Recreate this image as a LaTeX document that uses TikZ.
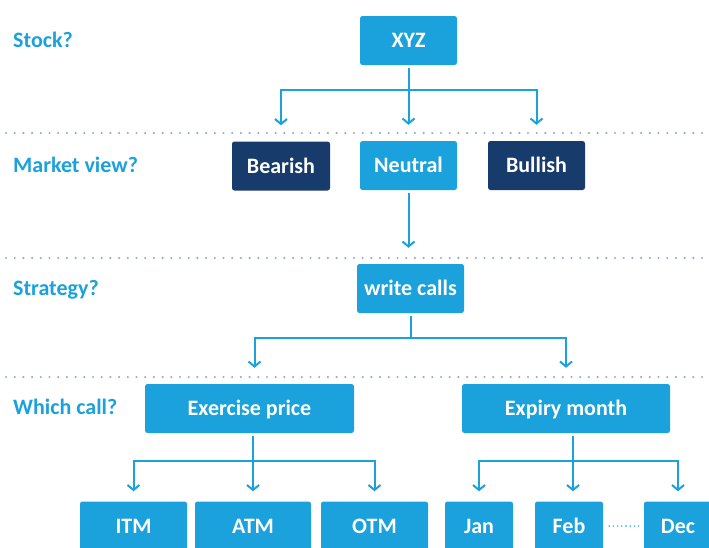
\documentclass[tikz,border=0pt]{standalone}
\usepackage{fontspec}
\setmainfont{Carlito}
\usetikzlibrary{arrows.meta}
\definecolor{boxblue}{HTML}{1BA1DB}
\definecolor{boxnavy}{HTML}{173B6B}
\definecolor{dotgrey}{HTML}{9AAEBF}
\tikzset{
  box/.style={fill=boxblue, rounded corners=2.5pt, inner sep=0pt,
    minimum height=49pt, text=white,
    font=\bfseries\fontsize{22}{24}\selectfont,
    text height=14pt, text depth=0pt},
  darkbox/.style={box, fill=boxnavy},
  question/.style={anchor=base west, inner sep=0pt, text=boxblue,
    font=\bfseries\fontsize{22}{24}\selectfont},
  conn/.style={draw=boxblue, line width=2pt, line join=miter,
    -{Straight Barb[length=5pt,width=12pt]}, shorten <=3pt},
  separator/.style={draw=dotgrey, line width=2.4pt, line cap=round,
    dash pattern=on 0pt off 8.7pt},
  gapdots/.style={draw=boxblue, line width=1.6pt, line cap=round,
    dash pattern=on 0pt off 4.2pt},
}
\begin{document}
\begin{tikzpicture}[x=1pt,y=-1pt]
\useasboundingbox (0,0) rectangle (709,547);
\clip (0,0) rectangle (709,547);

% level separators
\draw[separator] (6,133) -- (712,133);
\draw[separator] (6,258) -- (712,258);
\draw[separator] (6,377) -- (712,377);

% question labels
\node[question] (q1) at (13,47.5) {Stock?};
\node[question] (q2) at (13,172.5) {Market view?};
\node[question] (q3) at (13,295.5) {Strategy?};
\node[question] (q4) at (13,414.5) {Which call?};

% decision boxes
\node[box, minimum width=97pt] (xyz) at (408.5,40.5) {XYZ};
\node[darkbox, minimum width=98pt] (bearish) at (281,166) {Bearish};
\node[box, minimum width=97pt] (neutral) at (408.5,165.5) {Neutral};
\node[darkbox, minimum width=97pt] (bullish) at (536.5,165.5) {Bullish};
\node[box, minimum width=107pt] (write) at (410.5,288.5) {write calls};
\node[box, minimum width=209pt] (exercise) at (249.5,408.5) {Exercise price};
\node[box, minimum width=208pt] (expiry) at (566,408.5) {Expiry month};
\node[box, minimum width=107pt] (itm) at (133.5,526) {ITM};
\node[box, minimum width=116pt] (atm) at (253,526) {ATM};
\node[box, minimum width=107pt] (otm) at (374.5,526) {OTM};
\node[box, minimum width=68pt] (jan) at (479,526) {Jan};
\node[box, minimum width=68pt] (feb) at (569,526) {Feb};
\node[box, minimum width=68pt] (dec) at (678,526) {Dec};

% bus lines
\coordinate (bus1) at (0,90);
\coordinate (bus3) at (0,338);
\coordinate (bus4) at (0,461);

% stock -> market view
\draw[conn, shorten >=16pt] (xyz.south) |- (bus1 -| bearish.north) -- (bearish.north);
\draw[conn, shorten >=16pt] (xyz.south) -- (neutral.north);
\draw[conn, shorten >=16pt] (xyz.south) |- (bus1 -| bullish.north) -- (bullish.north);

% market view -> strategy
\draw[conn, shorten >=16pt] (neutral.south) -- (neutral.south |- write.north);

% strategy -> which call
\coordinate (exn) at ([xshift=5pt]exercise.north);
\draw[conn, shorten >=16pt] (write.south) |- (bus3 -| exn) -- (exn);
\draw[conn, shorten >=16pt] (write.south) |- (bus3 -| expiry.north) -- (expiry.north);

% exercise price -> moneyness
\coordinate (exs) at (atm.north |- exercise.south);
\draw[conn, shorten >=10pt] (exs) |- (bus4 -| itm.north) -- (itm.north);
\draw[conn, shorten >=10pt] (exs) -- (atm.north);
\draw[conn, shorten >=10pt] (exs) |- (bus4 -| otm.north) -- (otm.north);

% expiry month -> months
\coordinate (exps) at ([xshift=7pt]expiry.south);
\draw[conn, shorten >=10pt] (exps) |- (bus4 -| jan.north) -- (jan.north);
\draw[conn, shorten >=10pt] (exps) -- (exps |- feb.north);
\draw[conn, shorten >=10pt] (exps) |- (bus4 -| dec.north) -- (dec.north);

% months omitted between Feb and Dec
\draw[gapdots] ([xshift=6pt]feb.east) -- ([xshift=-4pt]dec.west);
\end{tikzpicture}
\end{document}
